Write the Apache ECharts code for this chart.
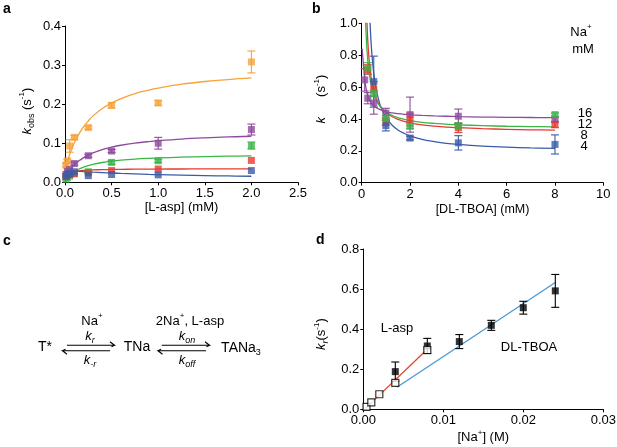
<!DOCTYPE html>
<html>
<head>
<meta charset="utf-8">
<script src="https://cdn.jsdelivr.net/npm/echarts@6.0.0/dist/echarts.min.js"></script>
<style>
html, body { margin: 0; padding: 0; background: #fff; }
#chart { width: 617px; height: 447px; }
</style>
</head>
<body>
<div id="chart"></div>
<script>
// ---- panel a : k_obs vs [L-asp] ----
const aspX = [0.01, 0.025, 0.05, 0.1, 0.25, 0.5, 1, 2];
const aOrange = [0.044, 0.055, 0.093, 0.115, 0.14, 0.197, 0.203, 0.308];
const aPurple = [0.02, 0.028, 0.033, 0.048, 0.068, 0.08, 0.10, 0.135];
const aGreen = [0.008, 0.012, 0.016, 0.022, 0.027, 0.051, 0.055, 0.094];
const aRed = [0.015, 0.018, 0.02, 0.022, 0.024, 0.03, 0.034, 0.056];
const aBlue = [0.015, 0.02, 0.022, 0.027, 0.017, 0.02, 0.019, 0.03];
const aOrangeErr = [0.004, 0.004, 0.016, 0.005, 0.004, 0.007, 0.006, 0.028];
const aPurpleErr = [0, 0, 0, 0.004, 0.004, 0.004, 0.015, 0.014];
const aGreenErr = [0, 0, 0, 0, 0.003, 0.005, 0.004, 0.009];

// fitted curves
const aFitX = [0, 0.025, 0.05, 0.075, 0.1, 0.15, 0.2, 0.25, 0.3, 0.4, 0.5, 0.6, 0.75, 0.9, 1, 1.25, 1.5, 1.75, 2];
const aOrangeFit = [0.03, 0.052, 0.071, 0.087, 0.101, 0.124, 0.1425, 0.157, 0.17, 0.189, 0.203, 0.214, 0.227, 0.236, 0.241, 0.251, 0.258, 0.263, 0.267];
const aPurpleFit = [0.012, 0.022, 0.0307, 0.0381, 0.0444, 0.0549, 0.0631, 0.0697, 0.0752, 0.0836, 0.0899, 0.0948, 0.1002, 0.1043, 0.1065, 0.1107, 0.1137, 0.116, 0.1178];
const aGreenFit = [0.004, 0.0118, 0.018, 0.0231, 0.0273, 0.034, 0.039, 0.0429, 0.046, 0.0507, 0.054, 0.0565, 0.0593, 0.0613, 0.0623, 0.0643, 0.0658, 0.0668, 0.0676];
const aRedFit = [0.012, 0.0197, 0.0235, 0.0258, 0.0273, 0.0293, 0.0304, 0.0312, 0.0317, 0.0324, 0.0329, 0.0332, 0.0336, 0.0338, 0.0339, 0.0341, 0.0343, 0.0344, 0.0345];
const aBlueFit = [0.03, 0.0298, 0.0295, 0.0291, 0.0288, 0.0281, 0.0274, 0.0267, 0.026, 0.0248, 0.0237, 0.0227, 0.0214, 0.0202, 0.0196, 0.0182, 0.0171, 0.0162, 0.0155];

// ---- panel b : k vs [DL-TBOA] ----
const tboaX = [0.125, 0.25, 0.5, 1, 2, 4, 8];
const bPurple = [0.645, 0.53, 0.50, 0.437, 0.427, 0.417, 0.395];
const bGreen = [null, 0.718, 0.56, 0.406, 0.354, 0.358, 0.427];
const bRed = [null, 0.71, 0.588, 0.38, 0.396, 0.344, 0.365];
const bBlue = [null, null, 0.634, 0.358, 0.28, 0.25, 0.24];
const bPurpleErr = [0.07, 0.035, 0.07, 0.03, 0.11, 0.045, 0.015];
const bGreenErr = [0, 0.035, 0.02, 0.015, 0.015, 0.015, 0.01];
const bRedErr = [0, 0.03, 0.045, 0.02, 0.04, 0.03, 0.02];
const bBlueErr = [0, 0, 0.16, 0.033, 0.012, 0.045, 0.06];

const bFitX = [0.02, 0.05, 0.1, 0.15, 0.2, 0.25, 0.3, 0.35, 0.4, 0.45, 0.5, 0.6, 0.7, 0.8, 0.9, 1, 1.25, 1.5, 1.75, 2, 2.5, 3, 3.5, 4, 5, 6, 7, 8];
const bPurpleFit = [0.84, 0.78, 0.69, 0.62, 0.575, 0.545, 0.525, 0.51, 0.5, 0.492, 0.485, 0.472, 0.463, 0.456, 0.45, 0.445, 0.438, 0.433, 0.429, 0.426, 0.422, 0.419, 0.417, 0.415, 0.412, 0.41, 0.409, 0.408];
const bGreenFit = [null, null, 1.422, 1.06, 0.879, 0.77, 0.698, 0.646, 0.608, 0.577, 0.553, 0.517, 0.491, 0.472, 0.457, 0.445, 0.423, 0.408, 0.398, 0.39, 0.379, 0.372, 0.367, 0.363, 0.358, 0.354, 0.352, 0.35];
const bRedFit = [null, null, null, 1.45, 1.083, 0.895, 0.782, 0.707, 0.65, 0.61, 0.577, 0.53, 0.497, 0.474, 0.456, 0.44, 0.415, 0.397, 0.385, 0.376, 0.363, 0.355, 0.349, 0.345, 0.339, 0.335, 0.332, 0.33];
const bBlueFit = [null, null, null, null, null, null, 1.19, 0.987, 0.853, 0.757, 0.686, 0.586, 0.52, 0.472, 0.437, 0.41, 0.362, 0.331, 0.31, 0.294, 0.272, 0.258, 0.247, 0.24, 0.23, 0.223, 0.218, 0.215];
const naLabels = ['16', '12', '8', '4'];

// ---- panel d : k_r vs [Na+] ----
const tboaNa = [0.004, 0.008, 0.012, 0.016, 0.02, 0.024];
const dTboa = [0.188, 0.316, 0.338, 0.419, 0.507, 0.591];
const dTboaErr = [0.048, 0.038, 0.035, 0.025, 0.032, 0.082];
const aspNa = [0.0004, 0.001, 0.002, 0.004, 0.008];
const dAsp = [0.012, 0.035, 0.075, 0.132, 0.296];
const aspFitX = [0.0003, 0.0078];
const aspFitY = [0.006, 0.292];
const tboaFitX = [0.0042, 0.024];
const tboaFitY = [0.11, 0.633];

const FONT = '"Liberation Sans", Arial, Helvetica, sans-serif';
const C = { orange: '#f6a23a', purple: '#8d4b9c', green: '#3bb44a', red: '#e8392e', blue: '#3a5ba8',
            dRed: '#e2462c', dBlue: '#4b98d3' };

function tok(extra) {
  return Object.assign({ fontSize: 13, fontFamily: FONT, lineHeight: 18, verticalAlign: 'middle', color: '#000' }, extra);
}
const RICH = {
  k: tok({ fontStyle: 'italic' }),
  kg: tok({ fontStyle: 'italic', padding: [0, 20, 0, 8] }),
  n: tok({}),
  ea: tok({ padding: [0, 14, 0, 0] }),
  ed: tok({ padding: [0, 10, 0, 0] }),
  t: tok({ fontSize: 14 }),
  sub: tok({ fontSize: 9, verticalAlign: 'bottom' }),
  subi: tok({ fontSize: 9, fontStyle: 'italic', verticalAlign: 'bottom' }),
  sup: tok({ fontSize: 8, verticalAlign: 'top' })
};

function pts(xs, ys) {
  return xs.map((x, i) => [x, ys[i]]).filter(p => p[1] != null);
}
function bars(xs, ys, errs) {
  var out = [];
  xs.forEach((x, i) => {
    if (ys[i] != null && errs[i] > 0) out.push([x, ys[i] - errs[i], ys[i] + errs[i]]);
  });
  return out;
}
function renderErr(params, api) {
  var x = api.value(0);
  var top = api.coord([x, api.value(2)]);
  var bot = api.coord([x, api.value(1)]);
  var st = { stroke: api.visual('color'), lineWidth: 1.1 };
  var w = 4;
  return {
    type: 'group', children: [
      { type: 'line', shape: { x1: top[0], y1: top[1], x2: bot[0], y2: bot[1] }, style: st },
      { type: 'line', shape: { x1: top[0] - w, y1: top[1], x2: top[0] + w, y2: top[1] }, style: st },
      { type: 'line', shape: { x1: bot[0] - w, y1: bot[1], x2: bot[0] + w, y2: bot[1] }, style: st }
    ]
  };
}
function errSeries(idx, color, data) {
  return { type: 'custom', xAxisIndex: idx, yAxisIndex: idx, renderItem: renderErr, data: data,
           encode: { x: 0, y: [1, 2] }, itemStyle: { color: color }, z: 3, silent: true };
}
function dotSeries(idx, color, data) {
  return { type: 'scatter', xAxisIndex: idx, yAxisIndex: idx, symbol: 'rect', symbolSize: 7,
           data: data, itemStyle: { color: color }, z: 4, silent: true };
}
function fitSeries(idx, color, data) {
  return { type: 'line', xAxisIndex: idx, yAxisIndex: idx, data: data, showSymbol: false, symbol: 'none',
           smooth: 0.4, clip: true, lineStyle: { color: color, width: 1.3 }, z: 2, silent: true };
}
function axis(extra) {
  return Object.assign({
    type: 'value',
    axisLine: { show: true, onZero: false, lineStyle: { color: '#000', width: 1 } },
    axisTick: { show: true, inside: false, length: 3, lineStyle: { color: '#000', width: 1 } },
    splitLine: { show: false },
    axisLabel: { color: '#000', fontSize: 13, fontFamily: FONT, margin: 4 },
    nameLocation: 'middle',
    nameTextStyle: { color: '#000', fontSize: 13, fontFamily: FONT, rich: RICH }
  }, extra);
}
function txt(x, y, text, size) {
  return {
    type: 'text', x: x, y: y, silent: true,
    style: { text: text, fill: '#000', font: size + 'px ' + FONT, fontSize: size, fontFamily: FONT,
             align: 'center', verticalAlign: 'middle', textAlign: 'center', textVerticalAlign: 'middle', rich: RICH }
  };
}
function letter(x, y, t) {
  return { type: 'text', x: x, y: y, silent: true,
           style: { text: t, fill: '#000', font: 'bold 14px ' + FONT, align: 'left', verticalAlign: 'top' } };
}
function arrow(x1, x2, y, right) {
  var main = right ? [[x1, y], [x2, y], [x2 - 4.5, y - 3.6]] : [[x2, y], [x1, y], [x1 + 4.5, y + 3.6]];
  var small = right ? [[x2, y], [x2 - 3, y + 1.5]] : [[x1, y], [x1 + 3, y - 1.5]];
  return [
    { type: 'polyline', silent: true, shape: { points: main }, style: { stroke: '#000', lineWidth: 1.1, fill: null } },
    { type: 'polyline', silent: true, shape: { points: small }, style: { stroke: '#000', lineWidth: 1.1, fill: null } }
  ];
}

const fmt1 = v => v.toFixed(1);

const option = {
  animation: false,
  backgroundColor: '#fff',
  grid: [
    { left: 65, top: 26, width: 233, height: 156.3, containLabel: false, outerBoundsMode: 'none' },
    { left: 361.7, top: 23.3, width: 241.6, height: 159.4, containLabel: false, outerBoundsMode: 'none' },
    { left: 363.3, top: 249, width: 240, height: 160.3, containLabel: false, outerBoundsMode: 'none' }
  ],
  xAxis: [
    axis({ gridIndex: 0, min: 0, max: 2.5, interval: 0.5, name: '[L-asp] (mM)', nameGap: 19,
           axisLabel: { color: '#000', fontSize: 13, fontFamily: FONT, margin: 5, formatter: fmt1 } }),
    axis({ gridIndex: 1, min: 0, max: 10, interval: 2, name: '[DL-TBOA] (mM)', nameGap: 20,
           nameTextStyle: { color: '#000', fontSize: 12.5, fontFamily: FONT },
           axisLabel: { color: '#000', fontSize: 13, fontFamily: FONT, margin: 5 } }),
    axis({ gridIndex: 2, min: 0, max: 0.03, interval: 0.01, name: '{n|[Na}{sup|+}{n|] (M)}', nameGap: 19,
           axisLabel: { color: '#000', fontSize: 13, fontFamily: FONT, margin: 5, formatter: v => v.toFixed(2) } })
  ],
  yAxis: [
    axis({ gridIndex: 0, min: 0, max: 0.4, interval: 0.1, name: '{k|k}{sub|obs}{n| (s}{sup|-1}{ea|)}',
           nameGap: 29, nameRotate: 90,
           axisLabel: { color: '#000', fontSize: 13, fontFamily: FONT, margin: 4, formatter: fmt1 } }),
    axis({ gridIndex: 1, min: 0, max: 1, interval: 0.2, name: '{kg|k}{n|(s}{sup|-1}{n|)}',
           nameGap: 31, nameRotate: 90,
           axisLabel: { color: '#000', fontSize: 13, fontFamily: FONT, margin: 4, formatter: fmt1 } }),
    axis({ gridIndex: 2, min: 0, max: 0.8, interval: 0.2, name: '{k|k}{subi|r}{n|(s}{sup|-1}{ed|)}',
           nameGap: 33, nameRotate: 90,
           axisLabel: { color: '#000', fontSize: 13, fontFamily: FONT, margin: 4, formatter: fmt1 } })
  ],
  series: [
    // panel a
    fitSeries(0, C.orange, pts(aFitX, aOrangeFit)),
    fitSeries(0, C.purple, pts(aFitX, aPurpleFit)),
    fitSeries(0, C.green, pts(aFitX, aGreenFit)),
    fitSeries(0, C.red, pts(aFitX, aRedFit)),
    fitSeries(0, C.blue, pts(aFitX, aBlueFit)),
    errSeries(0, C.orange, bars(aspX, aOrange, aOrangeErr)),
    errSeries(0, C.purple, bars(aspX, aPurple, aPurpleErr)),
    errSeries(0, C.green, bars(aspX, aGreen, aGreenErr)),
    dotSeries(0, C.orange, pts(aspX, aOrange)),
    dotSeries(0, C.purple, pts(aspX, aPurple)),
    dotSeries(0, C.green, pts(aspX, aGreen)),
    dotSeries(0, C.red, pts(aspX, aRed)),
    dotSeries(0, C.blue, pts(aspX, aBlue)),
    // panel b
    fitSeries(1, C.blue, pts(bFitX, bBlueFit)),
    fitSeries(1, C.red, pts(bFitX, bRedFit)),
    fitSeries(1, C.green, pts(bFitX, bGreenFit)),
    fitSeries(1, C.purple, pts(bFitX, bPurpleFit)),
    errSeries(1, C.blue, bars(tboaX, bBlue, bBlueErr)),
    errSeries(1, C.red, bars(tboaX, bRed, bRedErr)),
    errSeries(1, C.green, bars(tboaX, bGreen, bGreenErr)),
    errSeries(1, C.purple, bars(tboaX, bPurple, bPurpleErr)),
    dotSeries(1, C.purple, pts(tboaX, bPurple)),
    dotSeries(1, C.red, pts(tboaX, bRed)),
    dotSeries(1, C.green, pts(tboaX, bGreen)),
    dotSeries(1, C.blue, pts(tboaX, bBlue)),
    // panel d
    fitSeries(2, C.dBlue, pts(tboaFitX, tboaFitY)),
    fitSeries(2, C.dRed, pts(aspFitX, aspFitY)),
    errSeries(2, '#000', bars(tboaNa, dTboa, dTboaErr)),
    dotSeries(2, '#000', pts(tboaNa, dTboa)),
    { type: 'scatter', xAxisIndex: 2, yAxisIndex: 2, symbol: 'rect', symbolSize: 7, z: 5, silent: true,
      data: pts(aspNa, dAsp), itemStyle: { color: '#fff', borderColor: '#000', borderWidth: 1.2 } }
  ],
  graphic: [
    letter(3, 2, 'a'), letter(312, 2, 'b'), letter(3, 234, 'c'), letter(316, 233, 'd'),
    // panel b legend
    txt(581, 32, '{n|Na}{sup|+}', 13),
    txt(583, 49, 'mM', 13),
    txt(585, 113, naLabels[0], 13),
    txt(585, 124, naLabels[1], 13),
    txt(584, 135, naLabels[2], 13),
    txt(584, 146, naLabels[3], 13),
    // panel d labels
    txt(397, 328, 'L-asp', 13),
    txt(529, 347, 'DL-TBOA', 13),
    // panel c scheme
    txt(45, 347, 'T*', 14),
    txt(137, 347, 'TNa', 14),
    txt(241, 348, '{t|TANa}{sub|3}', 14),
    txt(92, 321, '{n|Na}{sup|+}', 13),
    txt(190, 321, '{n|2Na}{sup|+}{n|, L-asp}', 13),
    txt(90, 336, '{k|k}{subi|r}', 13),
    txt(90, 360, '{k|k}{subi|-r}', 13),
    txt(187, 336, '{k|k}{subi|on}', 13),
    txt(187, 360, '{k|k}{subi|off}', 13)
  ].concat(arrow(67, 114.5, 345.3, true), arrow(62.5, 110, 350.7, false),
           arrow(161.7, 209.5, 345.3, true), arrow(158, 206, 350.7, false))
};

const chart = echarts.init(document.getElementById('chart'));
chart.setOption(option);
</script>
</body>
</html>
